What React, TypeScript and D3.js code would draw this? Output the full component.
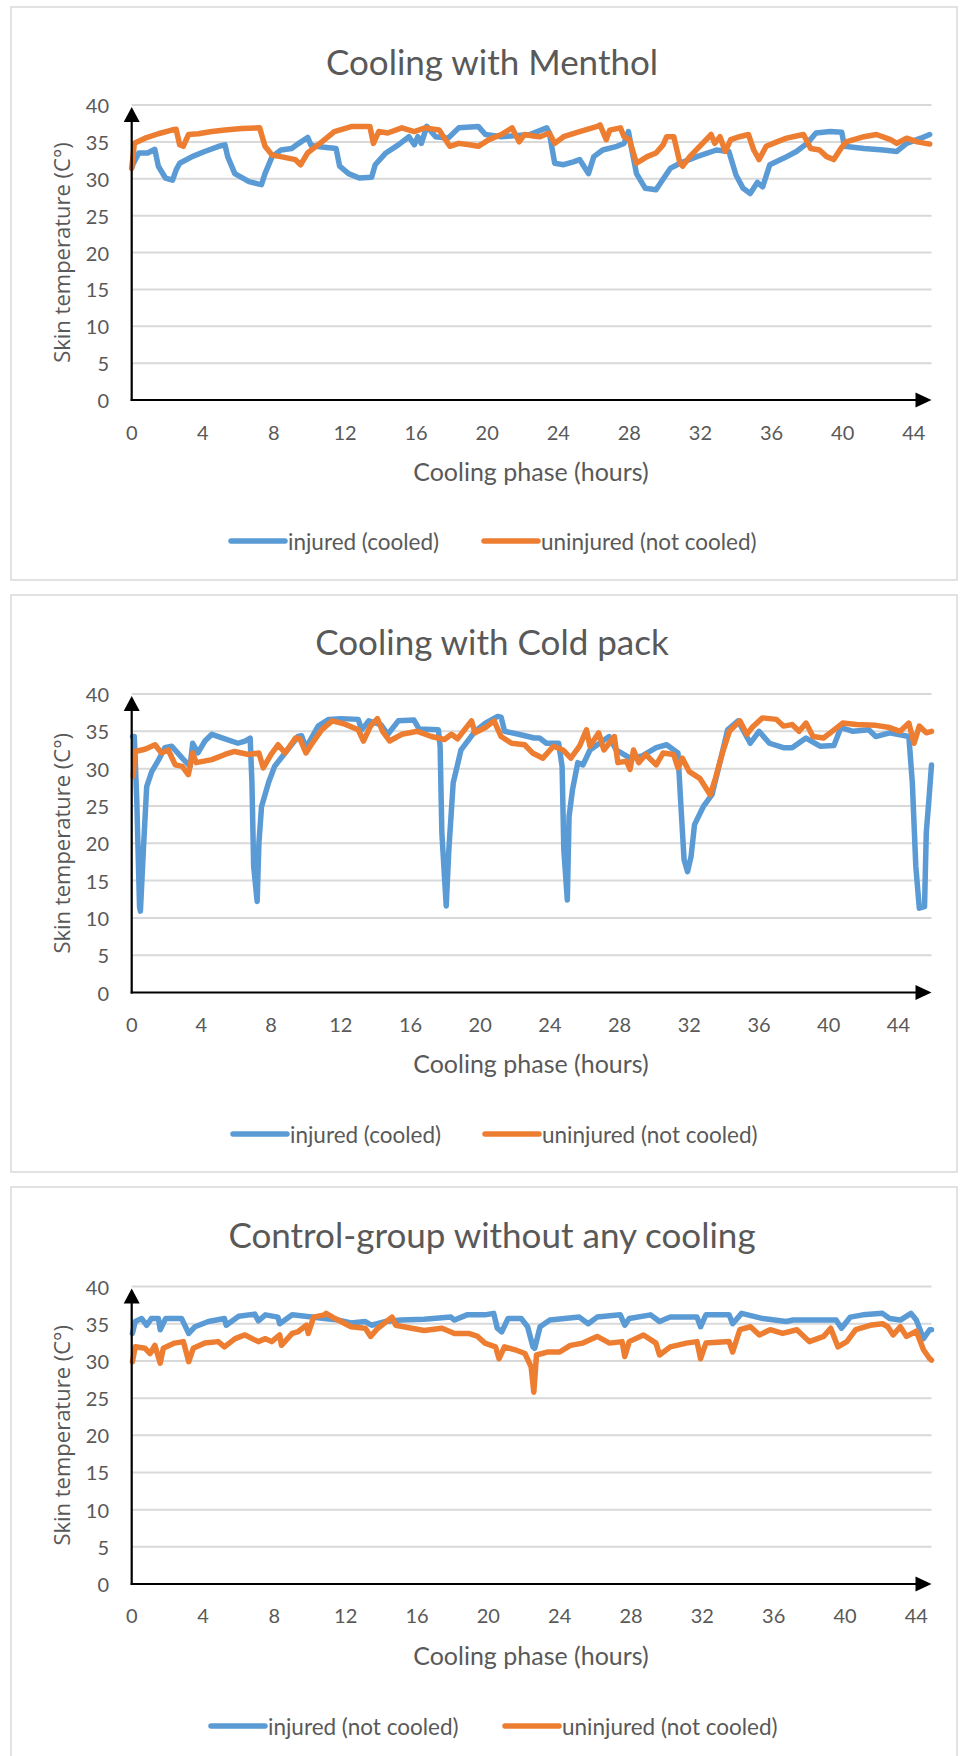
import React from 'react';
import * as d3 from 'd3';

type Pt = [number, number];

const xTicks = [0, 4, 8, 12, 16, 20, 24, 28, 32, 36, 40, 44];
const yTicks = [0, 5, 10, 15, 20, 25, 30, 35, 40];

const titles = ['Cooling with Menthol', 'Cooling with Cold pack', 'Control-group without any cooling'];
const legendCooled = ['injured (cooled)', 'uninjured (not cooled)'];
const legendControl = ['injured (not cooled)', 'uninjured (not cooled)'];

// [hours, skin temperature °C]
const mentholInjured: Pt[] = [
  [0, 31.5], [0.1, 32.1], [0.4, 33.5], [0.9, 33.5], [1.3, 34.0], [1.5, 31.7], [1.9, 30.1], [2.3, 29.8],
  [2.5, 31.2], [2.7, 32.1], [3.4, 33.0], [4.1, 33.7], [4.9, 34.4], [5.25, 34.6], [5.4, 33.0], [5.8, 30.7],
  [6.6, 29.6], [7.1, 29.3], [7.3, 29.2], [7.5, 30.7], [7.9, 33.0], [8.4, 33.9], [9.0, 34.1], [9.4, 34.8],
  [9.9, 35.6], [10.1, 34.5], [10.7, 34.3], [11.5, 34.1], [11.7, 31.7], [12.2, 30.7], [12.8, 30.1], [13.5, 30.2],
  [13.7, 31.9], [14.3, 33.5], [15.0, 34.6], [15.6, 35.7], [15.9, 34.6], [16.1, 35.7], [16.3, 34.8], [16.6, 37.1],
  [17.1, 35.7], [17.8, 35.5], [18.4, 36.9], [19.5, 37.1], [19.9, 36.0], [20.8, 35.7], [22.4, 36.0], [23.35, 36.9],
  [23.5, 36.2], [23.8, 32.1], [24.3, 31.9], [24.85, 32.3], [25.2, 32.6], [25.7, 30.7], [26.0, 33.0], [26.5, 33.9],
  [27.3, 34.4], [27.7, 34.8], [27.95, 36.4], [28.1, 34.4], [28.4, 30.7], [28.9, 28.7], [29.5, 28.5], [29.8, 29.6],
  [30.3, 31.4], [30.85, 32.1], [31.8, 33.0], [32.9, 33.9], [33.6, 33.7], [34.0, 30.5], [34.4, 28.7], [34.8, 28.0],
  [35.2, 29.5], [35.5, 28.9], [35.9, 31.9], [36.7, 32.8], [37.4, 33.7], [38.0, 34.8], [38.5, 36.2], [39.3, 36.4],
  [39.95, 36.3], [40.1, 34.4], [41.2, 34.1], [42.3, 33.9], [43.05, 33.7], [43.6, 34.8], [44.4, 35.5], [44.9, 36.0],
];

const mentholUninjured: Pt[] = [
  [0, 31.4], [0.15, 34.8], [0.75, 35.5], [1.5, 36.1], [2.25, 36.6], [2.5, 36.7], [2.7, 34.6], [2.9, 34.4],
  [3.2, 36.0], [3.75, 36.1], [4.5, 36.4], [5.25, 36.6], [6.2, 36.8], [7.2, 36.9], [7.5, 34.4], [7.9, 33.2],
  [8.6, 32.9], [9.2, 32.6], [9.5, 31.9], [9.9, 33.5], [10.7, 35.0], [11.4, 36.4], [12.4, 37.1], [13.4, 37.1],
  [13.6, 34.8], [13.9, 36.4], [14.4, 36.2], [15.2, 36.9], [15.9, 36.4], [16.5, 36.9], [17.3, 36.6], [17.6, 35.5],
  [17.9, 34.4], [18.4, 34.8], [19.0, 34.6], [19.5, 34.4], [20.1, 35.3], [20.8, 36.0], [21.4, 36.9], [21.8, 35.0],
  [22.1, 36.0], [22.6, 35.8], [22.97, 35.7], [23.5, 36.2], [23.8, 34.8], [24.3, 35.7], [25.2, 36.4], [26.2, 37.1],
  [26.35, 37.3], [26.7, 35.3], [26.9, 36.6], [27.5, 36.9], [27.7, 35.7], [28.0, 35.3], [28.4, 32.1], [29.0, 33.0],
  [29.5, 33.5], [29.9, 34.6], [30.1, 35.7], [30.5, 35.7], [30.85, 32.1], [31.0, 31.7], [31.4, 33.0], [32.2, 35.0],
  [32.6, 36.0], [32.8, 34.8], [33.1, 35.7], [33.4, 33.7], [33.7, 35.3], [34.2, 35.7], [34.7, 36.0], [35.0, 33.9],
  [35.3, 32.6], [35.7, 34.4], [36.3, 35.0], [36.85, 35.5], [37.4, 35.8], [37.8, 36.0], [38.2, 34.1], [38.7, 33.9],
  [39.1, 33.0], [39.5, 32.6], [39.9, 34.1], [40.2, 35.0], [41.2, 35.7], [41.9, 36.0], [42.7, 35.3], [43.05, 34.8],
  [43.6, 35.5], [44.2, 35.0], [44.9, 34.7],
];

const coldInjured: Pt[] = [
  [0.05, 34.3], [0.15, 34.3], [0.29, 25.8], [0.45, 11.5], [0.5, 10.9], [0.67, 19.1], [0.86, 27.6], [1.15, 29.6],
  [1.5, 31.0], [1.9, 32.8], [2.3, 33.0], [2.9, 31.4], [3.35, 30.3], [3.5, 33.4], [3.8, 32.1], [4.2, 33.7],
  [4.6, 34.6], [5.35, 34.0], [6.1, 33.4], [6.5, 33.7], [6.8, 34.1], [6.9, 28.1], [7.0, 16.9], [7.2, 12.2],
  [7.3, 20.0], [7.45, 24.9], [7.85, 28.1], [8.2, 30.3], [8.8, 32.1], [9.55, 34.3], [9.75, 34.4], [10.0, 32.8],
  [10.7, 35.7], [11.3, 36.6], [12.0, 36.7], [13.0, 36.6], [13.2, 35.2], [13.6, 36.4], [14.3, 35.9], [14.7, 34.6],
  [15.3, 36.4], [16.2, 36.5], [16.5, 35.3], [17.6, 35.2], [17.7, 33.0], [17.8, 21.4], [18.05, 11.6], [18.2, 19.1],
  [18.45, 28.1], [18.9, 32.5], [19.7, 35.0], [20.3, 36.1], [21.0, 37.0], [21.2, 36.9], [21.4, 35.0], [22.2, 34.6],
  [23.1, 34.1], [23.4, 34.1], [23.8, 33.4], [24.5, 33.4], [24.7, 30.3], [24.8, 19.1], [25.0, 12.4], [25.1, 23.6],
  [25.3, 27.2], [25.6, 30.8], [25.9, 30.5], [26.3, 32.5], [26.85, 33.4], [27.4, 34.3], [27.8, 32.5], [28.6, 31.4],
  [29.3, 31.7], [30.1, 32.8], [30.7, 33.2], [31.35, 32.1], [31.5, 25.8], [31.7, 17.8], [31.9, 16.2], [32.1, 18.2],
  [32.3, 22.5], [32.8, 24.9], [33.3, 26.5], [33.7, 30.3], [34.2, 35.2], [34.8, 36.4], [35.5, 33.4], [36.0, 35.0],
  [36.6, 33.4], [37.4, 32.8], [37.9, 32.8], [38.7, 34.1], [39.5, 33.0], [40.3, 33.1], [40.7, 35.5], [41.4, 35.0],
  [42.3, 35.2], [42.7, 34.3], [43.5, 34.8], [44.6, 34.3], [44.8, 28.1], [45.0, 16.9], [45.2, 11.3], [45.5, 11.5],
  [45.6, 21.4], [45.75, 25.8], [45.9, 30.5],
];

const coldUninjured: Pt[] = [
  [0.09, 29.0], [0.19, 32.3], [0.76, 32.6], [1.34, 33.2], [1.7, 32.1], [2.1, 32.5], [2.5, 30.5], [2.9, 30.3],
  [3.25, 29.2], [3.5, 32.1], [3.7, 30.8], [4.6, 31.2], [5.35, 31.9], [5.9, 32.3], [6.7, 31.9], [7.3, 32.1],
  [7.55, 30.1], [8.0, 31.9], [8.4, 33.2], [8.8, 32.1], [9.4, 34.1], [9.65, 34.0], [10.0, 32.1], [10.3, 33.2],
  [10.9, 35.2], [11.5, 36.4], [12.2, 36.0], [13.0, 35.2], [13.3, 33.7], [13.7, 35.7], [14.1, 36.7], [14.4, 35.0],
  [14.8, 33.7], [15.5, 34.6], [16.4, 35.0], [17.2, 34.3], [17.95, 33.9], [18.35, 34.6], [18.7, 34.0], [19.5, 36.4],
  [19.7, 34.8], [20.3, 35.5], [20.8, 36.4], [21.2, 34.3], [21.8, 33.4], [22.55, 33.2], [23.0, 32.1], [23.6, 31.4],
  [24.2, 33.0], [24.75, 32.5], [25.2, 31.4], [25.7, 33.0], [26.1, 35.2], [26.3, 33.0], [26.8, 34.8], [27.1, 32.5],
  [27.7, 34.3], [27.9, 30.8], [28.4, 31.0], [28.6, 29.9], [28.8, 32.5], [29.1, 30.8], [29.5, 31.9], [30.1, 30.5],
  [30.5, 32.1], [31.1, 31.9], [31.35, 30.1], [31.6, 31.4], [32.0, 29.6], [32.6, 28.7], [33.2, 26.5], [33.5, 28.7],
  [33.9, 32.1], [34.3, 35.0], [34.9, 36.4], [35.3, 34.6], [35.6, 35.5], [36.2, 36.8], [37.0, 36.6], [37.4, 35.7],
  [37.9, 35.9], [38.3, 35.0], [38.7, 36.1], [39.1, 34.3], [39.7, 34.1], [40.2, 35.0], [40.8, 36.1], [41.6, 35.9],
  [42.7, 35.8], [43.5, 35.5], [44.1, 35.0], [44.6, 36.1], [44.9, 33.4], [45.2, 35.7], [45.6, 34.8], [45.9, 35.0],
];

const controlInjured: Pt[] = [
  [0.04, 33.7], [0.2, 35.3], [0.56, 35.7], [0.84, 34.8], [1.1, 35.7], [1.5, 35.7], [1.6, 34.2], [1.9, 35.7],
  [2.8, 35.7], [3.2, 33.7], [3.55, 34.6], [4.3, 35.3], [5.2, 35.7], [5.3, 34.8], [6.0, 36.0], [6.9, 36.3],
  [7.1, 35.4], [7.5, 36.2], [8.2, 35.9], [8.3, 35.0], [9.0, 36.2], [10.1, 35.9], [10.8, 35.7], [11.6, 35.5],
  [12.3, 35.1], [13.1, 35.3], [13.45, 34.8], [14.2, 35.3], [15.1, 35.5], [16.4, 35.6], [17.9, 35.9], [18.1, 35.5],
  [18.8, 36.2], [19.8, 36.2], [20.3, 36.4], [20.5, 34.4], [20.75, 33.9], [21.1, 35.7], [21.85, 35.7], [22.2, 34.6],
  [22.5, 31.9], [22.6, 31.7], [22.9, 34.6], [23.45, 35.5], [25.1, 35.9], [25.6, 35.0], [26.1, 35.9], [27.4, 36.2],
  [27.65, 34.8], [27.9, 35.7], [29.1, 36.2], [29.6, 35.3], [30.2, 35.9], [31.7, 35.9], [31.9, 34.6], [32.2, 36.2],
  [33.5, 36.2], [33.7, 35.0], [34.2, 36.4], [35.4, 35.7], [36.7, 35.3], [37.1, 35.5], [38.4, 35.5], [39.5, 35.5],
  [39.8, 34.4], [40.3, 35.9], [41.0, 36.2], [42.1, 36.4], [42.5, 35.7], [43.1, 35.5], [43.7, 36.4], [44.0, 35.5],
  [44.4, 33.0], [44.75, 34.2], [44.85, 34.2],
];

const controlUninjured: Pt[] = [
  [0.04, 29.9], [0.2, 31.9], [0.75, 31.7], [1.03, 31.0], [1.3, 32.1], [1.6, 29.7], [1.77, 31.7], [2.4, 32.4],
  [2.9, 32.6], [3.2, 29.9], [3.45, 31.7], [4.1, 32.4], [4.85, 32.6], [5.2, 31.9], [5.8, 33.0], [6.35, 33.5],
  [7.1, 32.6], [7.5, 33.0], [7.85, 32.6], [8.3, 33.5], [8.4, 32.1], [9.0, 33.7], [9.3, 33.9], [9.8, 34.8],
  [9.9, 33.7], [10.2, 35.9], [10.8, 36.2], [10.9, 36.4], [11.4, 35.7], [12.3, 34.6], [13.1, 34.4], [13.4, 33.3],
  [13.8, 34.4], [14.6, 35.9], [14.8, 34.8], [15.7, 34.4], [16.4, 34.1], [17.4, 34.4], [18.1, 33.7], [18.9, 33.7],
  [19.4, 33.3], [19.8, 32.4], [20.4, 31.9], [20.6, 30.3], [20.9, 31.9], [21.5, 31.5], [22.05, 31.0], [22.4, 29.2],
  [22.55, 25.8], [22.7, 30.8], [23.3, 31.2], [24.0, 31.2], [24.6, 32.1], [25.3, 32.4], [26.1, 33.3], [26.8, 32.4],
  [27.5, 32.6], [27.65, 30.6], [27.9, 32.6], [28.7, 33.5], [29.4, 32.4], [29.6, 30.8], [30.2, 31.9], [31.1, 32.4],
  [31.7, 32.6], [31.9, 30.3], [32.2, 32.4], [33.5, 32.6], [33.7, 31.2], [34.1, 34.2], [34.7, 34.6], [35.2, 33.5],
  [35.8, 34.2], [36.5, 33.7], [37.3, 34.2], [38.0, 32.6], [38.8, 33.3], [39.2, 34.4], [39.6, 31.9], [40.1, 32.6],
  [40.6, 34.2], [41.4, 34.8], [42.1, 35.0], [42.4, 34.6], [42.7, 33.5], [43.1, 34.6], [43.45, 33.3], [44.0, 34.0],
  [44.4, 31.5], [44.75, 30.3], [44.85, 30.1],
];

const BLUE = '#5b9bd5';
const ORANGE = '#ed7d31';
const TEXT = '#595959';
const GRID = '#d9d9d9';
const X0 = 131.7;
const X1 = 931.5;

const panels = [
  {
    title: titles[0], top: 7, bottom: 580, titleY: 61, yTop: 105, yBottom: 400, xMax: 45,
    tickY: 432, xTitleY: 471, legendY: 541, legendX: [231, 484], names: legendCooled,
    series: [mentholInjured, mentholUninjured],
  },
  {
    title: titles[1], top: 595, bottom: 1172, titleY: 641, yTop: 694, yBottom: 992.5, xMax: 45.9,
    tickY: 1024, xTitleY: 1063, legendY: 1134, legendX: [233, 485], names: legendCooled,
    series: [coldInjured, coldUninjured],
  },
  {
    title: titles[2], top: 1187, bottom: 1780, titleY: 1233.5, yTop: 1286.6, yBottom: 1584, xMax: 44.85,
    tickY: 1615, xTitleY: 1655, legendY: 1726, legendX: [211, 505], names: legendControl,
    series: [controlInjured, controlUninjured],
  },
];

type PanelCfg = typeof panels[number];

const Panel: React.FC<{ p: PanelCfg }> = ({ p }) => {
  const x = d3.scaleLinear().domain([0, p.xMax]).range([X0, X1]);
  const y = d3.scaleLinear().domain([0, 40]).range([p.yBottom, p.yTop]);
  const line = d3.line<Pt>().x(d => x(d[0])).y(d => y(d[1]));
  const colors = [BLUE, ORANGE];

  return (
    <g>
      <rect x={11} y={p.top} width={946} height={p.bottom - p.top} fill="#fff" stroke={GRID} strokeWidth={1.5} />
      <text x={492} y={p.titleY} textAnchor="middle" dominantBaseline="central"
        fontFamily="Lato, sans-serif" fontSize={35} fill={TEXT}>{p.title}</text>

      {yTicks.map(t => (
        <g key={t}>
          {t > 0 && <line x1={X0} x2={X1} y1={y(t)} y2={y(t)} stroke={GRID} strokeWidth={2} />}
          <text x={109} y={y(t)} textAnchor="end" dominantBaseline="central"
            fontFamily="Lato, sans-serif" fontSize={20} fill={TEXT}>{t}</text>
        </g>
      ))}
      {xTicks.map(t => (
        <text key={t} x={x(t)} y={p.tickY} textAnchor="middle" dominantBaseline="central"
          fontFamily="Lato, sans-serif" fontSize={20} fill={TEXT}>{t}</text>
      ))}

      <text transform={`translate(61,${(p.yTop + p.yBottom) / 2}) rotate(-90)`} textAnchor="middle"
        dominantBaseline="central" fontFamily="'Open Sans', sans-serif" fontSize={22} fill={TEXT}>
        Skin temperature (C°)
      </text>
      <text x={531} y={p.xTitleY} textAnchor="middle" dominantBaseline="central"
        fontFamily="Lato, sans-serif" fontSize={25} fill={TEXT}>Cooling phase (hours)</text>

      {p.series.map((s, i) => (
        <path key={i} d={line(s) || ''} fill="none" stroke={colors[i]} strokeWidth={5.5}
          strokeLinejoin="round" strokeLinecap="round" />
      ))}

      {/* axes with arrow heads */}
      <line x1={X0} x2={X0} y1={p.yBottom + 1} y2={p.yTop + 10} stroke="#000" strokeWidth={2.2} />
      <path d={`M${X0},${p.yTop + 2} L${X0 - 8},${p.yTop + 17} L${X0 + 8},${p.yTop + 17} Z`} fill="#000" />
      <line x1={X0 - 1} x2={X1 - 8} y1={p.yBottom} y2={p.yBottom} stroke="#000" strokeWidth={2.2} />
      <path d={`M${X1},${p.yBottom} L${X1 - 16},${p.yBottom - 7.5} L${X1 - 16},${p.yBottom + 7.5} Z`} fill="#000" />

      {p.names.map((n, i) => (
        <g key={n + i}>
          <line x1={p.legendX[i]} x2={p.legendX[i] + 54} y1={p.legendY} y2={p.legendY}
            stroke={colors[i]} strokeWidth={5.5} strokeLinecap="round" />
          <text x={p.legendX[i] + 57} y={p.legendY} dominantBaseline="central"
            fontFamily="Lato, sans-serif" fontSize={22.5} fill={TEXT}>{n}</text>
        </g>
      ))}
    </g>
  );
};

export default function App() {
  return (
    <svg width={960} height={1756} style={{ position: 'absolute', left: 0, top: 0, background: '#fff' }}>
      <rect width={960} height={1756} fill="#fff" />
      {panels.map(p => <Panel key={p.title} p={p} />)}
    </svg>
  );
}
